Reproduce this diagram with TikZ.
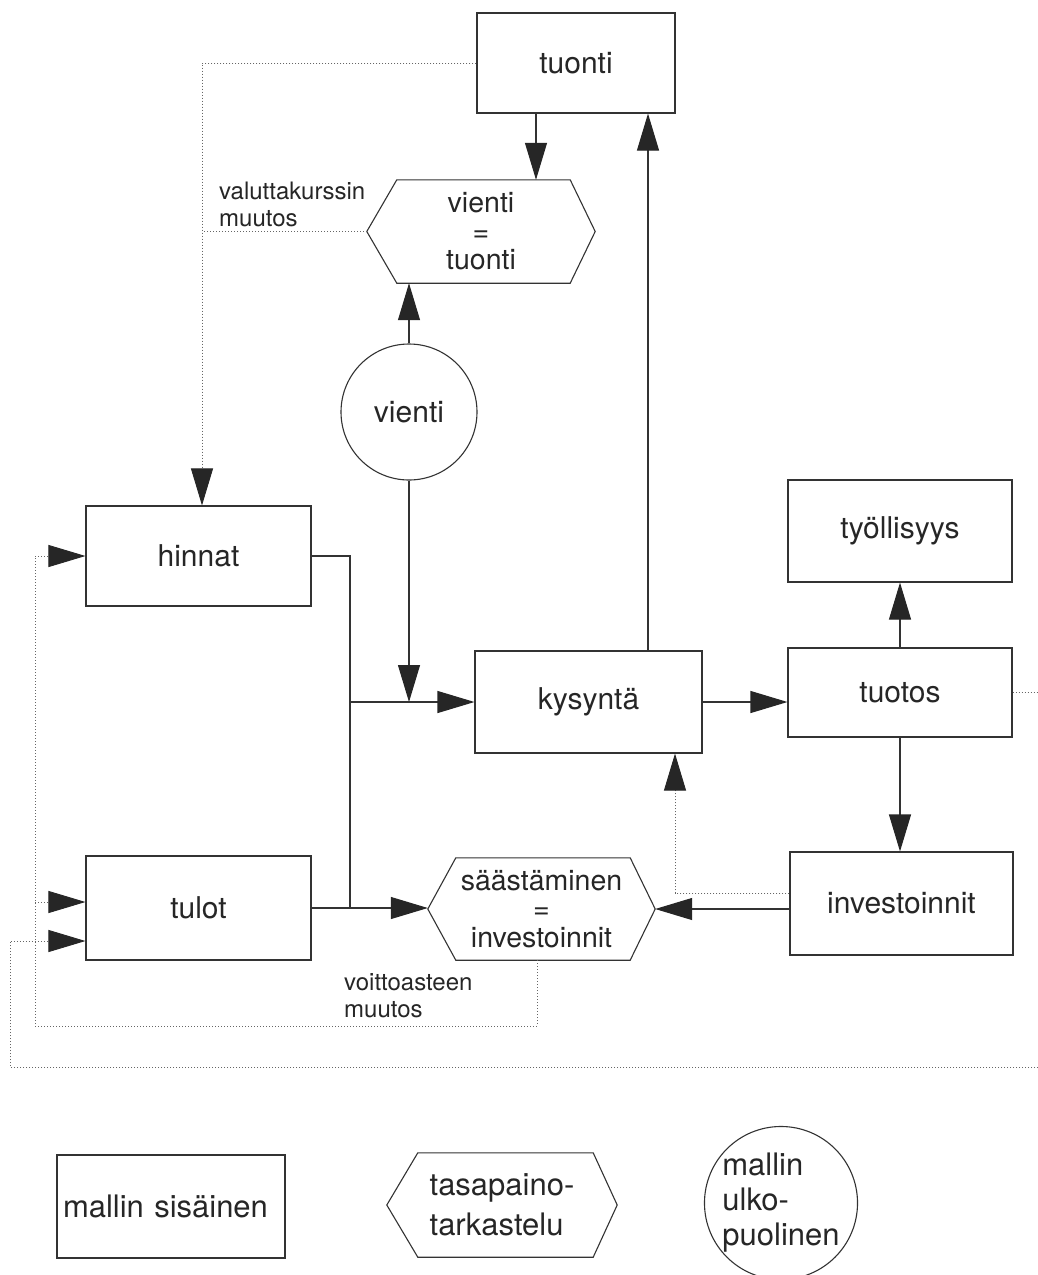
\documentclass[tikz,border=0pt]{standalone}
\usepackage{fontspec}
\setmainfont{TeX Gyre Heros}
\usetikzlibrary{arrows.meta}
\newcommand\hexoutline[3]{\draw[solidline] (#1.west) -- ([xshift=#2]#1.north west) -- ([xshift=-#3]#1.north east) -- (#1.east) -- ([xshift=-#3]#1.south east) -- ([xshift=#2]#1.south west) -- cycle;}
\begin{document}
\begin{tikzpicture}[x=1pt,y=-1pt,
  every node/.style={font=\fontsize{30}{27.5}\selectfont, text=black!85, inner sep=0pt},
  solidline/.style={draw=black!80, line width=1.1pt},
  dotl/.style={draw=black!60, line width=0.9pt, dash pattern=on 1.2pt off 1.8pt},
  arr/.style={-{Triangle[length=37pt,width=22pt,color=black!85]}},
  bx/.style n args={2}{draw=black!80, line width=1.1pt, rectangle, minimum width=#1, minimum height=#2},
  hx/.style n args={2}{rectangle, minimum width=#1, minimum height=#2, align=center, font=\fontsize{28.5}{28.5}\selectfont},
  lbl/.style={font=\fontsize{24}{27}\selectfont, align=left, anchor=west},
  leg/.style={font=\fontsize{31}{40}\selectfont}
]
\useasboundingbox (0,0) rectangle (1038,1275);
\fill[white] (0,0) rectangle (1038,1275);

% nodes
\node[bx={198pt}{100pt}] (tuonti) at (576,63) {tuonti};
\node[hx={228pt}{103pt}] (hex1) at (481,231.5) {vienti\\=\\tuonti};
\hexoutline{hex1}{30pt}{25pt}
\node[draw=black!80, line width=1.1pt, circle, minimum size=136pt] (vienti) at (409,412) {vienti};
\node[bx={225pt}{100pt}] (hinnat) at (198.5,556) {hinnat};
\node[bx={227pt}{102pt}] (kysynta) at (588.5,702) {kysyntä};
\node[bx={224pt}{102pt}] (tyoll) at (900,531) {työllisyys};
\node[bx={224pt}{89pt}] (tuotos) at (900,692.5) {tuotos};
\node[bx={223pt}{103pt}] (invest) at (901.5,903.5) {investoinnit};
\node[bx={225pt}{104pt}] (tulot) at (198.5,908) {tulot};
\node[hx={227pt}{102pt}] (hex2) at (541.5,909) {säästäminen\\=\\investoinnit};
\hexoutline{hex2}{28pt}{25pt}

\node[lbl] (lval) at (219,204) {valuttakurssin\\muutos};
\node[lbl] (lvoi) at (344,996) {voittoasteen\\muutos};

% helper coordinates
\coordinate (jx) at (350,702);
\coordinate (dx) at ([xshift=3.5pt]hinnat.north);
\coordinate (lb) at (35,1026);
\coordinate (rb) at (1038,1067);
\coordinate (lb2) at (10,1067);
\coordinate (t1) at ([yshift=6pt]tulot.west);
\coordinate (t2) at ([yshift=-33pt]tulot.west);
\coordinate (kx) at ([xshift=86.5pt]kysynta.south);
\coordinate (iv) at ([yshift=10.5pt]invest.west);

% solid connectors
\draw[solidline,arr] ([xshift=-40pt]tuonti.south) -- ([xshift=-40pt]tuonti.south |- hex1.north);
\draw[solidline,arr] ([xshift=59.5pt]kysynta.north) -- ([xshift=59.5pt]kysynta.north |- tuonti.south);
\draw[solidline,arr] (vienti.north) -- (vienti.north |- hex1.south);
\draw[solidline,arr] (vienti.south) -- (vienti.south |- kysynta.west);
\draw[solidline] (hinnat.east) -- (hinnat.east -| jx) -- (tulot.east -| jx);
\draw[solidline,arr] (jx) -- (kysynta.west);
\draw[solidline,arr] (tulot.east) -- (tulot.east -| hex2.west);
\draw[solidline,arr] (kysynta.east) -- (kysynta.east -| tuotos.west);
\draw[solidline,arr] (tuotos.north) -- (tyoll.south);
\draw[solidline,arr] (tuotos.south) -- (tuotos.south |- invest.north);
\draw[solidline,arr] (invest.west |- hex2.east) -- (hex2.east);

% dotted connectors
\draw[dotl,arr] (tuonti.west) -| (dx);
\draw[dotl] (hex1.west) -- (hex1.west -| dx);
\draw[dotl,arr] (iv) -| (kx);
\draw[dotl,arr] ([xshift=-4.5pt]hex2.south) |- (lb) |- (hinnat.west);
\draw[dotl,arr] (t1 -| lb) -- (t1);
\draw[dotl] (tuotos.east) -- (tuotos.east -| rb);
\draw[dotl,arr] (rb) -- (lb2) |- (t2);

% legend
\node[bx={228pt}{103pt}, leg, text width=216pt, align=left] (lrect) at (171,1206.5) {mallin sisäinen};
\node[hx={230pt}{104pt}, leg, align=left] (lhex) at (502,1205) {tasapaino-\\tarkastelu};
\hexoutline{lhex}{31pt}{24pt}
\node[draw=black!80, line width=1.1pt, circle, minimum size=144pt, font=\fontsize{31}{35}\selectfont, align=left] (lcirc) at (781,1203) {mallin\\ulko-\\puolinen};
\end{tikzpicture}
\end{document}
